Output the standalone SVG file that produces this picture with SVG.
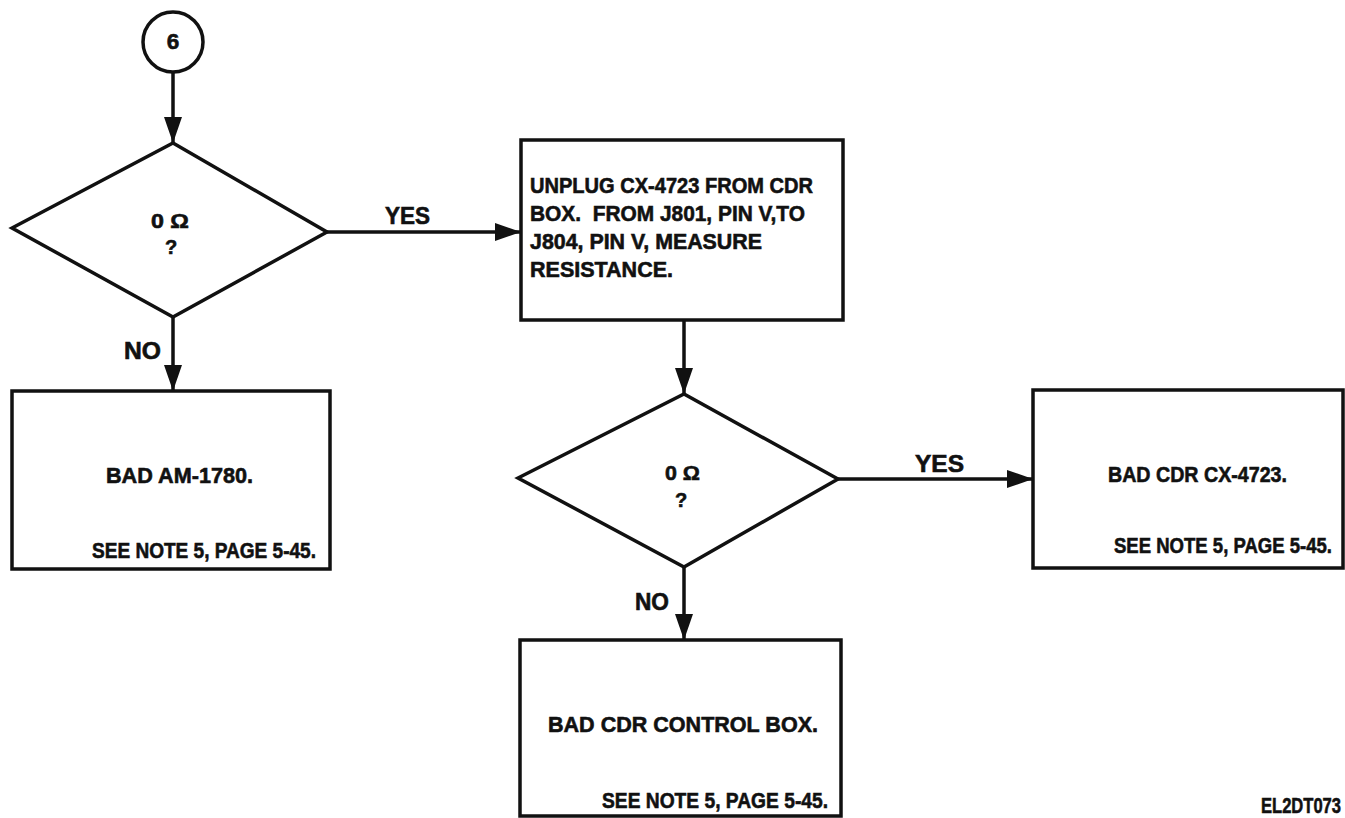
<svg xmlns="http://www.w3.org/2000/svg" width="1345" height="818" viewBox="0 0 1345 818">
<style>
.shape{fill:#fff;stroke:#111;stroke-width:3.5}
.conn{fill:none;stroke:#111;stroke-width:3.5}
text{font-family:"Liberation Sans",Arial,sans-serif;font-weight:bold;fill:#111;stroke:#111;stroke-width:0.6;font-size:22.5px}
.lbl{font-size:23px}
.q{font-size:20px}
.mid{text-anchor:middle}
</style>
<defs>
<marker id="ah" markerUnits="userSpaceOnUse" markerWidth="26" markerHeight="18" refX="26" refY="9" orient="auto">
<path d="M0,0 L26,9 L0,18 z" fill="#111"/>
</marker>
</defs>
<rect width="1345" height="818" fill="#fff"/>
<g id="connectors">
<path class="conn" d="M173,72 L173,143" marker-end="url(#ah)"/>
<path class="conn" d="M327,232 L521,232" marker-end="url(#ah)"/>
<path class="conn" d="M173,317 L173,391" marker-end="url(#ah)"/>
<path class="conn" d="M684,320 L684,394" marker-end="url(#ah)"/>
<path class="conn" d="M838,479 L1033,479" marker-end="url(#ah)"/>
<path class="conn" d="M684,567 L684,640" marker-end="url(#ah)"/>
<text class="lbl" x="385" y="224" textLength="45" lengthAdjust="spacingAndGlyphs">YES</text>
<text class="lbl" x="124" y="359" textLength="37" lengthAdjust="spacingAndGlyphs">NO</text>
<text class="lbl" x="915" y="472" textLength="49" lengthAdjust="spacingAndGlyphs">YES</text>
<text class="lbl" x="635" y="610" textLength="34" lengthAdjust="spacingAndGlyphs">NO</text>
</g>
<g id="start6">
<circle class="shape" cx="173" cy="42" r="30"/>
<text class="mid" x="173" y="49" font-size="19">6</text>
</g>
<g id="decision1">
<path class="shape" d="M12,228 L173,143 L327,232 L173,317 Z"/>
<text class="q" x="151" y="228" textLength="38" lengthAdjust="spacingAndGlyphs">0 Ω</text>
<text class="q mid" x="171" y="254">?</text>
</g>
<g id="box-am1780">
<rect class="shape" x="12" y="391" width="318" height="178"/>
<text x="106" y="483" textLength="147" lengthAdjust="spacingAndGlyphs">BAD AM-1780.</text>
<text x="92" y="558" textLength="224" lengthAdjust="spacingAndGlyphs">SEE NOTE 5, PAGE 5-45.</text>
</g>
<g id="box-unplug">
<rect class="shape" x="521" y="140" width="322" height="180"/>
<text x="530" y="193" textLength="283" lengthAdjust="spacingAndGlyphs">UNPLUG CX-4723 FROM CDR</text>
<text x="530" y="221" textLength="275" lengthAdjust="spacingAndGlyphs" xml:space="preserve">BOX.  FROM J801, PIN V,TO</text>
<text x="530" y="249" textLength="232" lengthAdjust="spacingAndGlyphs">J804, PIN V, MEASURE</text>
<text x="530" y="277" textLength="143" lengthAdjust="spacingAndGlyphs">RESISTANCE.</text>
</g>
<g id="decision2">
<path class="shape" d="M518,478 L684,394 L838,479 L684,567 Z"/>
<text class="q" x="665" y="480" textLength="35" lengthAdjust="spacingAndGlyphs">0 Ω</text>
<text class="q mid" x="681" y="507">?</text>
</g>
<g id="box-cx4723">
<rect class="shape" x="1033" y="390" width="310" height="178"/>
<text x="1108" y="482" textLength="179" lengthAdjust="spacingAndGlyphs">BAD CDR CX-4723.</text>
<text x="1114" y="553" textLength="218" lengthAdjust="spacingAndGlyphs">SEE NOTE 5, PAGE 5-45.</text>
</g>
<g id="box-control">
<rect class="shape" x="520" y="640" width="321" height="176"/>
<text x="548" y="732" textLength="270" lengthAdjust="spacingAndGlyphs">BAD CDR CONTROL BOX.</text>
<text x="602" y="808" textLength="226" lengthAdjust="spacingAndGlyphs">SEE NOTE 5, PAGE 5-45.</text>
</g>
<text x="1261" y="813" font-size="16" stroke-width="0.3" textLength="80" lengthAdjust="spacingAndGlyphs">EL2DT073</text>
</svg>
